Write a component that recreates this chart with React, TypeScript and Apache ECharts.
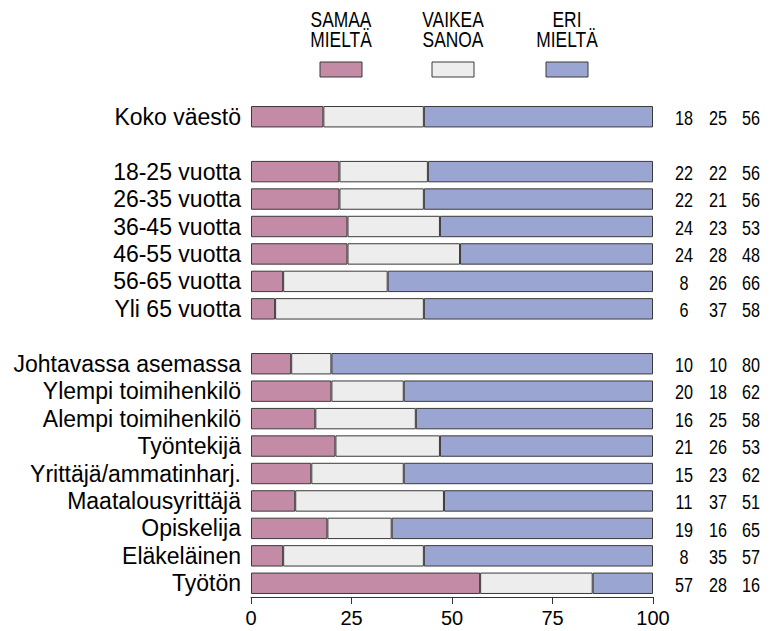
import React, { useEffect, useRef } from "react";
import * as echarts from "echarts";

const categories = [
  "Koko väestö", " ",
  "18-25 vuotta", "26-35 vuotta", "36-45 vuotta", "46-55 vuotta", "56-65 vuotta", "Yli 65 vuotta",
  "  ",
  "Johtavassa asemassa", "Ylempi toimihenkilö", "Alempi toimihenkilö", "Työntekijä",
  "Yrittäjä/ammatinharj.", "Maatalousyrittäjä", "Opiskelija", "Eläkeläinen", "Työtön",
];

// printed percentages (right-hand columns)
const samaa = [18, null, 22, 22, 24, 24, 8, 6, null, 10, 20, 16, 21, 15, 11, 19, 8, 57];
const vaikea = [25, null, 22, 21, 23, 28, 26, 37, null, 10, 18, 25, 26, 23, 37, 16, 35, 28];
const eri = [56, null, 56, 56, 53, 48, 66, 58, null, 80, 62, 58, 53, 62, 51, 65, 57, 16];
// drawn width of the "eri mieltä" segment (bars always fill to 100)
const eriBar = [57, null, 56, 57, 53, 48, 66, 57, null, 80, 62, 59, 53, 62, 52, 65, 57, 15];

const xTicks = [0, 25, 50, 75, 100];

const seriesNames = ["SAMAA\nMIELTÄ", "VAIKEA\nSANOA", "ERI\nMIELTÄ"];
const colors = ["#C48BA6", "#EDEDED", "#9BA5D1"];

const BORDER = "#3a3a3a";
const FONT = "'Liberation Sans', Arial, Helvetica, sans-serif";
const NARROW = "'Liberation Sans Narrow', 'Liberation Sans', Arial, sans-serif";

export default function App() {
  const ref = useRef<HTMLDivElement>(null);

  useEffect(() => {
    document.body.style.margin = "0";
    if (!ref.current) return;
    const chart = echarts.init(ref.current, undefined, { renderer: "svg" });

    const numberData = categories.map((_, i) => [i, samaa[i], vaikea[i], eri[i]]);

    const legendCenters = [341, 453, 567];
    const graphic: any[] = [];
    seriesNames.forEach((name, k) => {
      graphic.push({
        type: "text",
        x: legendCenters[k],
        y: 9,
        scaleX: 0.79,
        style: {
          text: name,
          align: "center",
          verticalAlign: "top",
          fontSize: 22,
          lineHeight: 20,
          fontFamily: FONT,
          fill: "#000",
        },
      });
      graphic.push({
        type: "rect",
        shape: { x: legendCenters[k] - 21, y: 62, width: 42, height: 15 },
        style: { fill: colors[k], stroke: BORDER, lineWidth: 1 },
      });
    });

    const barSeries = [samaa, vaikea, eriBar].map((arr, k) => ({
      type: "bar",
      name: seriesNames[k],
      stack: "total",
      data: arr.map((v) => (v === null ? "-" : v)),
      barCategoryGap: "22%",
      itemStyle: { color: colors[k], borderColor: BORDER, borderWidth: 1 },
      emphasis: { disabled: true },
    }));

    chart.setOption({
      animation: false,
      grid: { left: 251, right: 118, top: 103, bottom: 34 },
      xAxis: {
        type: "value",
        min: 0,
        max: 100,
        interval: 25,
        axisLine: { show: true, lineStyle: { color: "#333", width: 1 } },
        axisTick: { show: true, length: 7, lineStyle: { color: "#333" } },
        splitLine: { show: false },
        axisLabel: {
          color: "#000",
          fontSize: 20,
          fontFamily: NARROW,
          margin: 11,
          formatter: (v: number) => (xTicks.includes(v) ? String(v) : ""),
        },
      },
      yAxis: {
        type: "category",
        data: categories,
        inverse: true,
        axisLine: { show: false },
        axisTick: { show: false },
        axisLabel: { color: "#000", fontSize: 23, fontFamily: FONT, margin: 10, interval: 0 },
      },
      graphic,
      series: [
        ...barSeries,
        {
          type: "custom",
          data: numberData,
          encode: { y: 0 },
          silent: true,
          clip: false,
          renderItem: (params: any, api: any) => {
            const idx = api.value(0);
            if (samaa[idx] === null) return null;
            const p = api.coord([100, idx]);
            const offsets = [31, 65, 98];
            const vals = [api.value(1), api.value(2), api.value(3)];
            return {
              type: "group",
              children: vals.map((v: number, j: number) => ({
                type: "text",
                x: p[0] + offsets[j],
                y: p[1] + 1,
                scaleX: 0.77,
                style: {
                  text: String(v),
                  align: "center",
                  verticalAlign: "middle",
                  fontSize: 21,
                  fontFamily: FONT,
                  fill: "#000",
                },
              })),
            };
          },
        },
      ],
    });

    return () => chart.dispose();
  }, []);

  return <div ref={ref} style={{ width: 771, height: 631 }} />;
}
